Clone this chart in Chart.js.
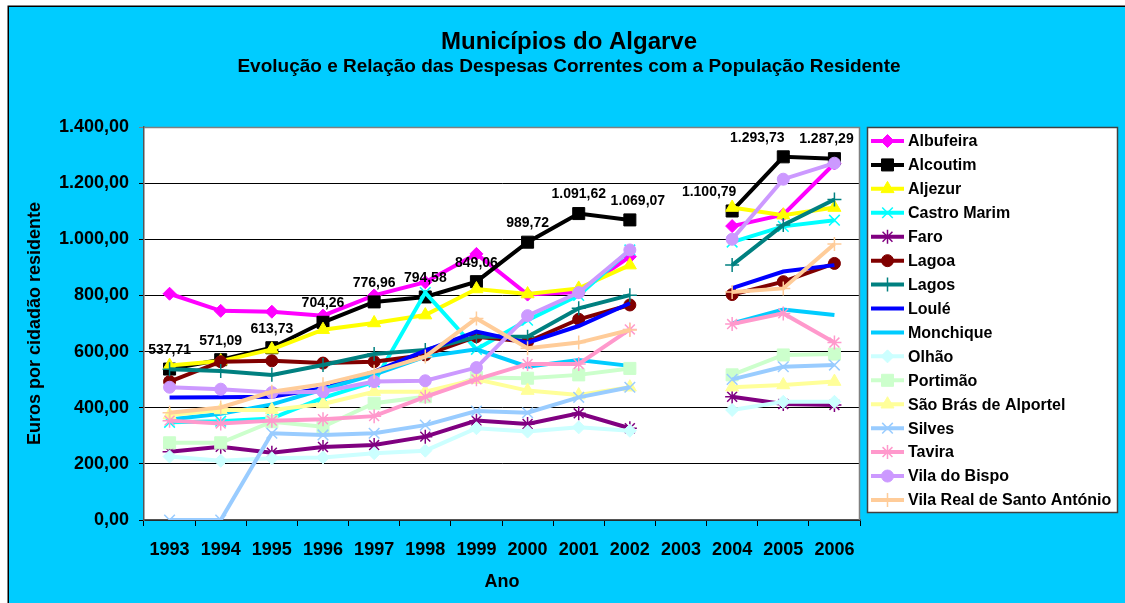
<!DOCTYPE html>
<html><head><meta charset="utf-8">
<script src="https://cdn.jsdelivr.net/npm/chart.js@4/dist/chart.umd.min.js"></script>
<style>html,body{margin:0;padding:0;background:#fff;overflow:hidden}#wrap{width:1125px;height:603px;position:relative}</style>
</head><body><div id="wrap"><canvas id="c" width="1125" height="603"></canvas></div>
<script>
const years = ['1993','1994','1995','1996','1997','1998','1999','2000','2001','2002','2003','2004','2005','2006'];
const yTicks = [0, 200, 400, 600, 800, 1000, 1200, 1400];
const names = ['Albufeira','Alcoutim','Aljezur','Castro Marim','Faro','Lagoa','Lagos','Loulé','Monchique','Olhão','Portimão','São Brás de Alportel','Silves','Tavira','Vila do Bispo','Vila Real de Santo António'];
const albufeira   = [806, 745, 742, 728, 800, 847, 948, 803, 812, 938, null, 1047, 1088, 1270];
const alcoutim    = [537.71, 571.09, 613.73, 704.26, 776.96, 794.58, 849.06, 989.72, 1091.62, 1069.07, null, 1100.79, 1293.73, 1287.29];
const aljezur     = [550, 566, 608, 678, 702, 730, 823, 805, 825, 908, null, 1113, 1086, 1113];
const castroMarim = [348, 352, 362, 435, 492, 810, 608, 712, 800, 962, null, 990, 1046, 1068];
const faro        = [243, 261, 240, 260, 267, 297, 354, 342, 380, 327, null, 439, 413, 410];
const lagoa       = [493, 564, 567, 559, 564, 588, 653, 635, 715, 766, null, 803, 849, 914];
const lagos       = [537, 531, 517, 552, 591, 606, 653, 653, 754, 801, null, 908, 1051, 1142];
const loule       = [436, 437, 439, 469, 528, 603, 671, 632, 691, 772, null, 826, 885, 908];
const monchique   = [358, 378, 412, 465, 518, 582, 608, 546, 570, 549, null, 700, 750, 730];
const olhao       = [226, 211, 220, 223, 238, 247, 327, 315, 330, 318, null, 392, 421, 421];
const portimao    = [275, 275, 350, 332, 416, 439, 508, 505, 517, 540, null, 517, 588, 591];
const saoBras     = [374, 392, 392, 413, 457, 457, 501, 461, 445, 473, null, 473, 481, 493];
const silves      = [0, 0, 309, 303, 309, 338, 388, 382, 437, 473, null, 501, 546, 552];
const tavira      = [354, 344, 354, 359, 370, 439, 501, 556, 556, 679, null, 698, 736, 632];
const vilaBispo   = [473, 466, 454, 457, 493, 496, 543, 728, 810, 962, null, 1000, 1214, 1271];
const vilaReal    = [382, 401, 457, 484, 528, 582, 718, 612, 632, 677, null, 812, 825, 983];

const seriesValues = [albufeira, alcoutim, aljezur, castroMarim, faro, lagoa, lagos, loule, monchique, olhao, portimao, saoBras, silves, tavira, vilaBispo, vilaReal];
const colors = ['#FF00FF','#000000','#FFFF00','#00FFFF','#800080','#800000','#008080','#0000FF','#00CCFF','#CCFFFF','#CCFFCC','#FFFF99','#99CCFF','#FF99CC','#CC99FF','#FFCC99'];
const styles = ['rectRot','rect','triangle','crossRot','star','circle','cross',false,false,'rectRot','rect','triangle','crossRot','star','circle','cross'];
const radii  = [6.5, 8.5, 7.5, 7.5, 7, 6, 7, 0, 0, 6.5, 8.5, 7.5, 7.5, 7, 6, 7];
const labelShift = {9: 8, 11: -23, 12: -26, 13: -8};

const FONT = 'Arial, "Liberation Sans", Helvetica, sans-serif';

function fmt(v) {
  const s = Number(v).toFixed(2).split('.');
  return s[0].replace(/\B(?=(\d{3})+(?!\d))/g, '.') + ',' + s[1];
}

const datasets = seriesValues.map((vals, i) => {
  const st = styles[i];
  const stroked = st === 'cross' || st === 'crossRot' || st === 'star';
  return {
    label: names[i],
    data: vals,
    borderColor: colors[i],
    backgroundColor: colors[i],
    borderWidth: 4,
    pointStyle: st || 'circle',
    pointRadius: st ? radii[i] : 0,
    pointHoverRadius: st ? radii[i] : 0,
    pointBorderWidth: stroked ? 1.5 : 1,
    pointBorderColor: colors[i],
    pointBackgroundColor: colors[i],
    tension: 0,
    spanGaps: false,
    order: -i
  };
});

const bgPlugin = {
  id: 'bg',
  beforeDraw(chart) {
    const {ctx, chartArea: a} = chart;
    ctx.save();
    ctx.fillStyle = '#FFFFFF';
    ctx.fillRect(0, 0, chart.width, chart.height);
    ctx.fillStyle = '#00CCFF';
    ctx.fillRect(8, 6, chart.width, chart.height);
    ctx.strokeStyle = '#000';
    ctx.lineWidth = 1.5;
    ctx.beginPath();
    ctx.moveTo(8.25, chart.height + 2);
    ctx.lineTo(8.25, 6.25);
    ctx.lineTo(chart.width + 2, 6.25);
    ctx.stroke();
    ctx.fillStyle = '#FFFFFF';
    ctx.fillRect(a.left, a.top, a.right - a.left, a.bottom - a.top);
    // titles
    ctx.fillStyle = '#000';
    ctx.textAlign = 'center';
    ctx.textBaseline = 'middle';
    ctx.font = 'bold 24px ' + FONT;
    ctx.fillText('Municípios do Algarve', 569, 42);
    ctx.font = 'bold 19px ' + FONT;
    ctx.fillText('Evolução e Relação das Despesas Correntes com a População Residente', 569, 67);
    ctx.restore();
  },
  afterDraw(chart) {
    const {ctx, chartArea: a} = chart;
    ctx.save();
    // plot border (top/right)
    ctx.strokeStyle = '#808080';
    ctx.lineWidth = 1.5;
    ctx.beginPath();
    ctx.moveTo(a.left, a.top + 0.5);
    ctx.lineTo(a.right - 0.5, a.top + 0.5);
    ctx.lineTo(a.right - 0.5, a.bottom);
    ctx.stroke();
    // legend box
    const lx = 867, ly = 127, lw = 250, lh = 385;
    ctx.fillStyle = '#FFFFFF';
    ctx.fillRect(lx, ly, lw, lh);
    ctx.strokeStyle = '#404040';
    ctx.lineWidth = 1.5;
    ctx.strokeRect(lx + 0.5, ly + 0.5, lw, lh);
    ctx.font = 'bold 16px ' + FONT;
    ctx.textAlign = 'left';
    ctx.textBaseline = 'middle';
    chart.data.datasets.forEach((ds, i) => {
      const y = 141 + i * 23.93;
      ctx.strokeStyle = ds.borderColor;
      ctx.lineWidth = 4;
      ctx.beginPath();
      ctx.moveTo(871, y);
      ctx.lineTo(904, y);
      ctx.stroke();
      if (styles[i] && Chart.helpers && Chart.helpers.drawPoint) {
        ctx.fillStyle = ds.pointBackgroundColor;
        ctx.strokeStyle = ds.pointBorderColor;
        ctx.lineWidth = ds.pointBorderWidth;
        Chart.helpers.drawPoint(ctx, {pointStyle: ds.pointStyle, rotation: 0, radius: ds.pointRadius, borderWidth: ds.pointBorderWidth}, 887.5, y);
      }
      ctx.fillStyle = '#000';
      ctx.fillText(ds.label, 908, y + 1);
    });
    ctx.restore();
  },
  afterDatasetsDraw(chart) {
    const {ctx} = chart;
    const meta = chart.getDatasetMeta(1);
    const vals = chart.data.datasets[1].data;
    ctx.save();
    ctx.font = 'bold 14px ' + FONT;
    ctx.fillStyle = '#000';
    ctx.textAlign = 'center';
    ctx.textBaseline = 'middle';
    meta.data.forEach((pt, j) => {
      const v = vals[j];
      if (v === null || v === undefined) return;
      ctx.fillText(fmt(v), pt.x + (labelShift[j] || 0), pt.y - 19);
    });
    ctx.restore();
  }
};

new Chart(document.getElementById('c'), {
  type: 'line',
  data: {labels: years, datasets},
  options: {
    responsive: false,
    animation: false,
    events: [],
    layout: {padding: {top: 127, right: 265, left: 0, bottom: 0}},
    plugins: {legend: {display: false}, tooltip: {enabled: false}, title: {display: false}},
    scales: {
      x: {
        type: 'category',
        offset: true,
        afterFit(s) { s.height = 83; },
        grid: {offset: true, drawOnChartArea: false, drawTicks: true, tickLength: 6, color: '#000', lineWidth: 1},
        border: {color: '#555', width: 1.5},
        ticks: {color: '#000', font: {family: FONT, size: 18, weight: 'bold'}, padding: 13, maxRotation: 0, autoSkip: false},
        title: {display: true, text: 'Ano', color: '#000', font: {family: FONT, size: 18, weight: 'bold'}, padding: {top: 0, bottom: 10.5}}
      },
      y: {
        min: 0, max: 1400,
        afterFit(s) { s.width = 144; },
        afterBuildTicks(s) { s.ticks = yTicks.map(v => ({value: v})); },
        grid: {color: (c) => (c.tick && c.tick.value === 1400) ? '#808080' : '#000', lineWidth: 1, tickLength: 5},
        border: {color: '#555', width: 1.5},
        ticks: {color: '#000', font: {family: FONT, size: 18, weight: 'bold'}, padding: 10, callback: (v) => fmt(v)},
        title: {display: true, text: 'Euros por cidadão residente', color: '#000', font: {family: FONT, size: 18, weight: 'bold'}, padding: {top: 24, bottom: 0}}
      }
    }
  },
  plugins: [bgPlugin]
});
</script></body></html>
